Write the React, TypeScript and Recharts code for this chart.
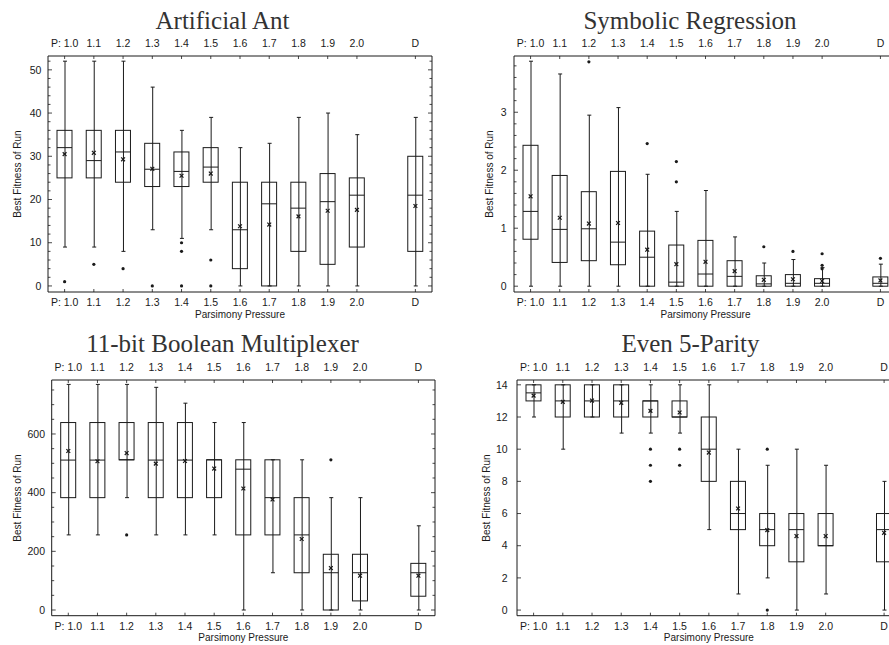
import React from "react";
import { Bar, ComposedChart, Scatter, XAxis, YAxis } from "recharts";

const categories = ["1.0", "1.1", "1.2", "1.3", "1.4", "1.5", "1.6", "1.7", "1.8", "1.9", "2.0", "D"];
const GAP = "gap";

// Artificial Ant
const antMin = [9, 9, 8, 13, 11, 13, 0, 0, 0, 0, 0, 0];
const antQ1 = [25, 25, 24, 23, 23, 24, 4, 0, 8, 5, 9, 8];
const antMed = [32, 29, 31, 27, 26.5, 27.5, 13, 19, 18, 19.5, 21, 21];
const antQ3 = [36, 36, 36, 33, 31, 32, 24, 24, 24, 26, 25, 30];
const antMax = [52, 52, 52, 46, 36, 39, 32, 33, 39, 40, 35, 39];
const antMean = [30.5, 30.8, 29.3, 27.1, 25.5, 26, 13.8, 14.2, 16.1, 17.4, 17.6, 18.5];
const antOut = [[1], [5], [4], [0], [10, 8, 0], [6, 0], [], [], [], [], [], []];

// Symbolic Regression
const symMin = [0, 0, 0, 0, 0, 0, 0, 0, 0, 0, 0, 0];
const symQ1 = [0.81, 0.41, 0.44, 0.37, 0, 0, 0, 0, 0, 0, 0, 0];
const symMed = [1.29, 0.98, 0.99, 0.76, 0.5, 0.07, 0.21, 0.17, 0.04, 0.05, 0.05, 0.05];
const symQ3 = [2.43, 1.91, 1.63, 1.98, 0.95, 0.71, 0.79, 0.44, 0.18, 0.2, 0.13, 0.16];
const symMax = [3.88, 3.66, 2.95, 3.08, 1.93, 1.29, 1.65, 0.85, 0.4, 0.46, 0.32, 0.38];
const symMean = [1.55, 1.18, 1.08, 1.09, 0.63, 0.38, 0.42, 0.26, 0.11, 0.12, 0.09, 0.1];
const symOut = [[], [], [3.87], [], [2.46], [2.15, 1.8], [], [], [0.68], [0.6], [0.56, 0.36, 0.3], [0.48]];

// 11-bit Boolean Multiplexer
const muxMin = [256, 256, 383, 256, 256, 256, 0, 127, 0, 0, 0, 0];
const muxQ1 = [383, 383, 512, 383, 383, 383, 256, 256, 127, 0, 31, 47];
const muxMed = [511, 511, 512, 511, 511, 512, 480, 383, 256, 127, 127, 127];
const muxQ3 = [639, 639, 639, 639, 639, 512, 512, 512, 383, 190, 190, 159];
const muxMax = [769, 769, 769, 759, 705, 639, 639, 512, 512, 383, 383, 287];
const muxMean = [542, 507, 535, 499, 508, 482, 414, 377, 242, 143, 117, 117];
const muxOut = [[], [], [256], [], [], [], [], [], [], [512], [], []];

// Even 5-Parity
const parMin = [12, 10, 12, 11, 11, 11, 5, 1, 2, 0, 1, 0];
const parQ1 = [13, 12, 12, 12, 12, 12, 8, 5, 4, 3, 4, 3];
const parMed = [13.5, 13, 13, 13, 13, 12, 10, 6, 5, 5, 4, 5];
const parQ3 = [14, 14, 14, 14, 13, 13, 12, 8, 6, 6, 6, 6];
const parMax = [14, 14, 14, 14, 14, 14, 14, 10, 9, 10, 9, 8];
const parMean = [13.33, 12.94, 13.02, 12.88, 12.38, 12.28, 9.79, 6.31, 4.97, 4.6, 4.6, 4.8];
const parOut = [[], [], [], [], [10, 9, 8], [10, 9], [], [], [10, 0], [], [], []];

// y ticks
const antMajor = [0, 10, 20, 30, 40, 50];
const antMinor = [0, 2, 4, 6, 8, 10, 12, 14, 16, 18, 20, 22, 24, 26, 28, 30, 32, 34, 36, 38, 40, 42, 44, 46, 48, 50, 52];
const symMajor = [0, 1, 2, 3];
const symMinor = [0, 0.2, 0.4, 0.6, 0.8, 1, 1.2, 1.4, 1.6, 1.8, 2, 2.2, 2.4, 2.6, 2.8, 3, 3.2, 3.4, 3.6, 3.8];
const muxMajor = [0, 200, 400, 600];
const muxMinor = [0, 50, 100, 150, 200, 250, 300, 350, 400, 450, 500, 550, 600, 650, 700, 750];
const parMajor = [0, 2, 4, 6, 8, 10, 12, 14];

const INK = "#1a1a1a";
const SANS = "'Liberation Sans', Arial, sans-serif";

type Stats = {
  min: number[];
  q1: number[];
  med: number[];
  q3: number[];
  max: number[];
  mean: number[];
  out: number[][];
};

function buildRows(s: Stats) {
  const rows: any[] = categories.map((cat, i) => ({
    cat,
    whisker: [s.min[i], s.max[i]],
    box: [s.q1[i], s.q3[i]],
    median: [s.med[i], s.med[i]],
    mean: s.mean[i],
    o1: s.out[i][0] ?? null,
    o2: s.out[i][1] ?? null,
    o3: s.out[i][2] ?? null,
  }));
  rows.splice(11, 0, { cat: GAP, whisker: null, box: null, median: null, mean: null, o1: null, o2: null, o3: null });
  return rows;
}

const BoxShape = (p: any) => {
  if (p.payload?.box == null) return <g />;
  const top = Math.min(p.y, p.y + p.height);
  return <rect x={p.x} y={top} width={p.width} height={Math.abs(p.height)} fill="none" stroke={INK} strokeWidth={1} />;
};

const WhiskerShape = (p: any) => {
  if (p.payload?.whisker == null) return <g />;
  const cx = p.x + p.width / 2;
  const y1 = p.y;
  const y2 = p.y + p.height;
  return (
    <g stroke={INK} strokeWidth={1}>
      <line x1={cx} x2={cx} y1={y1} y2={y2} />
      <line x1={p.x} x2={p.x + p.width} y1={y1} y2={y1} />
      <line x1={p.x} x2={p.x + p.width} y1={y2} y2={y2} />
    </g>
  );
};

const MedianShape = (p: any) => {
  if (p.payload?.median == null) return <g />;
  return <line x1={p.x} x2={p.x + p.width} y1={p.y} y2={p.y} stroke={INK} strokeWidth={1} />;
};

const MeanShape = (p: any) => {
  if (p.payload?.mean == null || p.cx == null || p.cy == null) return <g />;
  const r = 1.9;
  return (
    <g stroke={INK} strokeWidth={1.2}>
      <line x1={p.cx - r} x2={p.cx + r} y1={p.cy - r} y2={p.cy + r} />
      <line x1={p.cx - r} x2={p.cx + r} y1={p.cy + r} y2={p.cy - r} />
    </g>
  );
};

const makeDot = (key: string) => (p: any) => {
  if (p.payload?.[key] == null || p.cx == null || p.cy == null) return <g />;
  return <circle cx={p.cx} cy={p.cy} r={1.6} fill={INK} />;
};

const makeYTick = (majors: number[], gap: number, side: "left" | "right") => (p: any) => {
  const v = p.payload.value;
  const major = majors.some((m) => Math.abs(m - v) < 1e-9);
  const len = major ? 4 : 2.5;
  const dir = side === "left" ? 1 : -1;
  return (
    <g>
      <line x1={p.x} x2={p.x + dir * len} y1={p.y} y2={p.y} stroke={INK} strokeWidth={0.8} />
      {side === "left" && major && (
        <text x={p.x - gap} y={p.y} dy="0.35em" textAnchor="end" fontSize={10.5} fontFamily={SANS} fill={INK}>
          {v}
        </text>
      )}
    </g>
  );
};

const makeXTick = (side: "top" | "bottom") => (p: any) => {
  const v = p.payload.value;
  if (v === GAP) return <g />;
  const label = v === "1.0" ? "P: 1.0" : v;
  const dir = side === "top" ? 1 : -1;
  return (
    <g>
      <line x1={p.x} x2={p.x} y1={p.y} y2={p.y + dir * 3} stroke={INK} strokeWidth={0.8} />
      <text
        x={p.x}
        y={side === "top" ? p.y - 9.5 : p.y + 14}
        textAnchor="middle"
        fontSize={10.5}
        fontFamily={SANS}
        fill={INK}
      >
        {label}
      </text>
    </g>
  );
};

type PanelProps = {
  left: number;
  top: number;
  width: number;
  height: number;
  margin: { top: number; right: number; bottom: number; left: number };
  title: string;
  titleX: number;
  titleBase: number;
  yLabelX: number;
  tickGap: number;
  stats: Stats;
  domain: [number, number];
  majors: number[];
  ticks: number[];
};

function Panel(props: PanelProps) {
  const { left, top, width, height, margin, title, titleX, titleBase, yLabelX, tickGap, stats, domain, majors, ticks } = props;
  const rows = buildRows(stats);
  const yW = 40;
  const plotLeft = margin.left + yW;
  const plotRight = width - margin.right - 1;
  const plotTop = margin.top + 25;
  const plotBottom = height - margin.bottom - 28;
  const xPad = { left: 2, right: 2 };
  return (
    <div style={{ position: "absolute", left, top, width, height }}>
      <div
        style={{
          position: "absolute",
          left: titleX - 200,
          width: 400,
          top: titleBase - 21,
          textAlign: "center",
          fontFamily: "'Liberation Serif', 'Times New Roman', serif",
          fontSize: 25,
          lineHeight: "25px",
          color: "#333",
          whiteSpace: "nowrap",
        }}
      >
        {title}
      </div>
      <div
        style={{
          position: "absolute",
          left: yLabelX - 100,
          top: (plotTop + plotBottom) / 2 - 6,
          width: 200,
          height: 12,
          lineHeight: "12px",
          textAlign: "center",
          fontFamily: SANS,
          fontSize: 10,
          color: INK,
          transform: "rotate(-90deg)",
          whiteSpace: "nowrap",
        }}
      >
        Best Fitness of Run
      </div>
      <div
        style={{
          position: "absolute",
          left: (plotLeft + plotRight) / 2 - 100,
          top: plotBottom + 26 - 9.5,
          width: 200,
          lineHeight: "12px",
          textAlign: "center",
          fontFamily: SANS,
          fontSize: 10,
          color: INK,
          whiteSpace: "nowrap",
        }}
      >
        Parsimony Pressure
      </div>
      <div style={{ position: "absolute", left: 0, top: 0 }}>
        <ComposedChart width={width} height={height} data={rows} margin={margin}>
          <XAxis
            xAxisId="bottom"
            dataKey="cat"
            type="category"
            padding={xPad}
            interval={0}
            height={28}
            tickSize={0}
            tickMargin={0}
            tickLine={false}
            axisLine={{ stroke: INK }}
            tick={makeXTick("bottom")}
          />
          <XAxis
            xAxisId="top"
            orientation="top"
            dataKey="cat"
            type="category"
            padding={xPad}
            interval={0}
            height={25}
            tickSize={0}
            tickMargin={0}
            tickLine={false}
            axisLine={{ stroke: INK }}
            tick={makeXTick("top")}
          />
          <XAxis xAxisId="w" dataKey="cat" type="category" padding={xPad} hide />
          <XAxis xAxisId="m" dataKey="cat" type="category" padding={xPad} hide />
          <YAxis
            yAxisId="left"
            type="number"
            domain={domain}
            allowDataOverflow
            ticks={ticks}
            interval={0}
            width={yW}
            tickSize={0}
            tickMargin={0}
            tickLine={false}
            axisLine={{ stroke: INK }}
            tick={makeYTick(majors, tickGap, "left")}
          />
          <YAxis
            yAxisId="right"
            orientation="right"
            type="number"
            domain={domain}
            allowDataOverflow
            ticks={ticks}
            interval={0}
            width={1}
            tickSize={0}
            tickMargin={0}
            tickLine={false}
            axisLine={{ stroke: INK }}
            tick={makeYTick(majors, tickGap, "right")}
          />
          <Bar xAxisId="w" yAxisId="left" dataKey="whisker" barSize={4} shape={WhiskerShape} isAnimationActive={false} />
          <Bar xAxisId="bottom" yAxisId="left" dataKey="box" barSize={15} shape={BoxShape} isAnimationActive={false} />
          <Bar xAxisId="m" yAxisId="left" dataKey="median" barSize={15} shape={MedianShape} isAnimationActive={false} />
          <Scatter xAxisId="bottom" yAxisId="left" dataKey="mean" shape={MeanShape} isAnimationActive={false} />
          <Scatter xAxisId="bottom" yAxisId="left" dataKey="o1" shape={makeDot("o1")} isAnimationActive={false} />
          <Scatter xAxisId="bottom" yAxisId="left" dataKey="o2" shape={makeDot("o2")} isAnimationActive={false} />
          <Scatter xAxisId="bottom" yAxisId="left" dataKey="o3" shape={makeDot("o3")} isAnimationActive={false} />
        </ComposedChart>
      </div>
    </div>
  );
}

export default function App() {
  return (
    <div
      style={{
        position: "absolute",
        left: 0,
        top: 0,
        width: 889,
        height: 645,
        overflow: "hidden",
        background: "#fff",
      }}
    >
      <Panel
        left={0}
        top={0}
        width={445}
        height={320}
        margin={{ top: 31, right: 12, bottom: 0, left: 8 }}
        title="Artificial Ant"
        titleX={222.5}
        titleBase={29.3}
        yLabelX={18.3}
        tickGap={6.6}
        stats={{ min: antMin, q1: antQ1, med: antMed, q3: antQ3, max: antMax, mean: antMean, out: antOut }}
        domain={[-1.4, 53.2]}
        majors={antMajor}
        ticks={antMinor}
      />
      <Panel
        left={445}
        top={0}
        width={460}
        height={320}
        margin={{ top: 31, right: 7, bottom: 0, left: 29 }}
        title="Symbolic Regression"
        titleX={245}
        titleBase={29.3}
        yLabelX={45}
        tickGap={7.3}
        stats={{ min: symMin, q1: symQ1, med: symMed, q3: symQ3, max: symMax, mean: symMean, out: symOut }}
        domain={[-0.1, 3.97]}
        majors={symMajor}
        ticks={symMinor}
      />
      <Panel
        left={0}
        top={320}
        width={445}
        height={325}
        margin={{ top: 35, right: 9, bottom: 1.3, left: 11.7 }}
        title="11-bit Boolean Multiplexer"
        titleX={222.5}
        titleBase={32.3}
        yLabelX={18.3}
        tickGap={6.7}
        stats={{ min: muxMin, q1: muxQ1, med: muxMed, q3: muxQ3, max: muxMax, mean: muxMean, out: muxOut }}
        domain={[-19.4, 784]}
        majors={muxMajor}
        ticks={muxMinor}
      />
      <Panel
        left={445}
        top={320}
        width={460}
        height={325}
        margin={{ top: 35, right: 3.3, bottom: 1.3, left: 32 }}
        title="Even 5-Parity"
        titleX={245.5}
        titleBase={32.3}
        yLabelX={41.7}
        tickGap={9.3}
        stats={{ min: parMin, q1: parQ1, med: parMed, q3: parQ3, max: parMax, mean: parMean, out: parOut }}
        domain={[-0.35, 14.3]}
        majors={parMajor}
        ticks={parMajor}
      />
    </div>
  );
}
